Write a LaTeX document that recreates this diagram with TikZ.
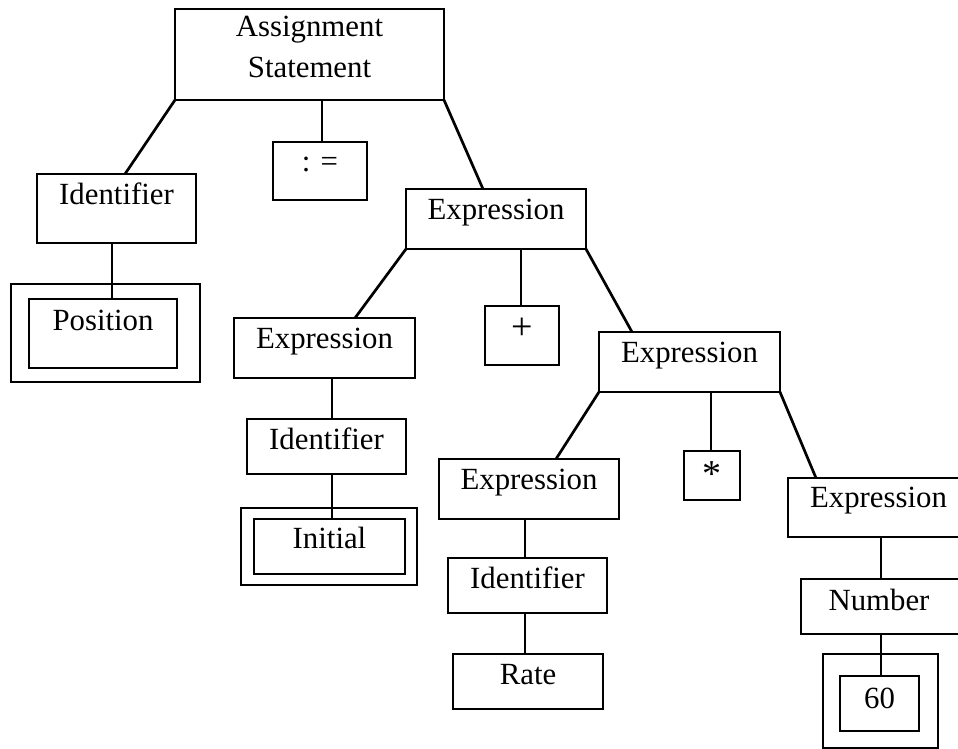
\documentclass[tikz,border=0pt]{standalone}
\usepackage{fontspec}
\setmainfont{Liberation Serif}
\tikzset{
  bx/.style={draw, rectangle, line width=2.7pt, inner sep=0pt, outer sep=0pt},
  txt/.style={inner sep=0pt, outer sep=0pt, font=\fontsize{30.8}{40}\selectfont},
  sym/.style={inner sep=0pt, outer sep=0pt, font=\fontsize{38}{40}\selectfont},
  conn/.style={line width=2.7pt},
}
% box only: name, x1, y1, x2, y2
\newcommand{\plainbox}[5]{%
  \node[bx, minimum width={(#4)-(#2)}, minimum height={(#5)-(#3)}] (#1)
    at ({((#2)+(#4))/2},{((#3)+(#5))/2}) {};%
}
% box with text: name, x1, y1, x2, y2, baseline y, text
\newcommand{\textbox}[7]{%
  \plainbox{#1}{#2}{#3}{#4}{#5}%
  \node[txt, anchor=base] (#1-t) at ({((#2)+(#4))/2},{#6}) {#7};%
}
\begin{document}
\begin{tikzpicture}[x=1pt,y=-1pt]
\useasboundingbox (0,0) rectangle (958,749);
\clip (0,0) rectangle (958,749);

% boxes
\plainbox{as}{175}{9}{444}{100}
\node[txt, anchor=base] (as-t1) at (309.5,37) {Assignment};
\node[txt, anchor=base] (as-t2) at (309.5,78) {Statement};

\plainbox{asg}{273}{142}{367}{200}
\node[txt, anchor=base] (asg-t) at (320,171) {: =};

\textbox{idl}{37}{174}{196}{243}{204}{Identifier}
\plainbox{posO}{11}{284}{200}{382}
\textbox{posI}{29}{299}{177}{368}{330}{Position}

\textbox{e1}{406}{189}{586}{249}{219}{Expression}
\textbox{e2}{234}{318}{415}{378}{348}{Expression}
\plainbox{plus}{485}{306}{559}{365}
\node[sym] (plus-t) at (522,329) {+};
\textbox{e3}{599}{332}{780}{392}{362}{Expression}

\textbox{idm}{247}{419}{406}{474}{449}{Identifier}
\plainbox{iniO}{241}{508}{417}{585}
\textbox{iniI}{254}{519}{405}{574}{548}{Initial}

\textbox{e4}{439}{459}{619}{519}{489}{Expression}
\plainbox{star}{684}{451}{740}{500}
\node[sym] (star-t) at (711.5,474) {*};
\textbox{e5}{788}{478}{969}{537}{507}{Expression}

\textbox{idr}{448}{558}{607}{613}{588}{Identifier}
\textbox{rate}{453}{654}{603}{709}{684}{Rate}

\plainbox{num}{801}{579}{962}{634}
\node[txt, anchor=base] (num-t) at (879,610) {Number};
\plainbox{sixO}{823}{654}{938}{748}
\textbox{sixI}{840}{676}{919}{731}{708}{60}

% connectors
\draw[conn] (as.south west) -- ([xshift=8.5pt]idl.north);
\draw[conn] ([xshift=12.5pt]as.south) -- ([xshift=2pt]asg.north);
\draw[conn] (as.south east) -- ([xshift=-13pt]e1.north);
\draw[conn] ([xshift=-4.5pt]idl.south) -- ([xshift=9pt]posI.north);
\draw[conn] (e1.south west) -- ([xshift=30.5pt]e2.north);
\draw[conn] ([xshift=25pt]e1.south) -- ([xshift=-1pt]plus.north);
\draw[conn] (e1.south east) -- ([xshift=-57.5pt]e3.north);
\draw[conn] ([xshift=7.5pt]e2.south) -- ([xshift=5.5pt]idm.north);
\draw[conn] ([xshift=5.5pt]idm.south) -- ([xshift=2.5pt]iniI.north);
\draw[conn] (e3.south west) -- ([xshift=27pt]e4.north);
\draw[conn] ([xshift=21.5pt]e3.south) -- ([xshift=-1pt]star.north);
\draw[conn] (e3.south east) -- ([xshift=-62.5pt]e5.north);
\draw[conn] ([xshift=-4pt]e4.south) -- ([xshift=-2.5pt]idr.north);
\draw[conn] ([xshift=-2.5pt]idr.south) -- ([xshift=-3pt]rate.north);
\draw[conn] ([xshift=2.5pt]e5.south) -- ([xshift=-0.5pt]num.north);
\draw[conn] ([xshift=-0.5pt]num.south) -- ([xshift=1.5pt]sixI.north);
\end{tikzpicture}
\end{document}
